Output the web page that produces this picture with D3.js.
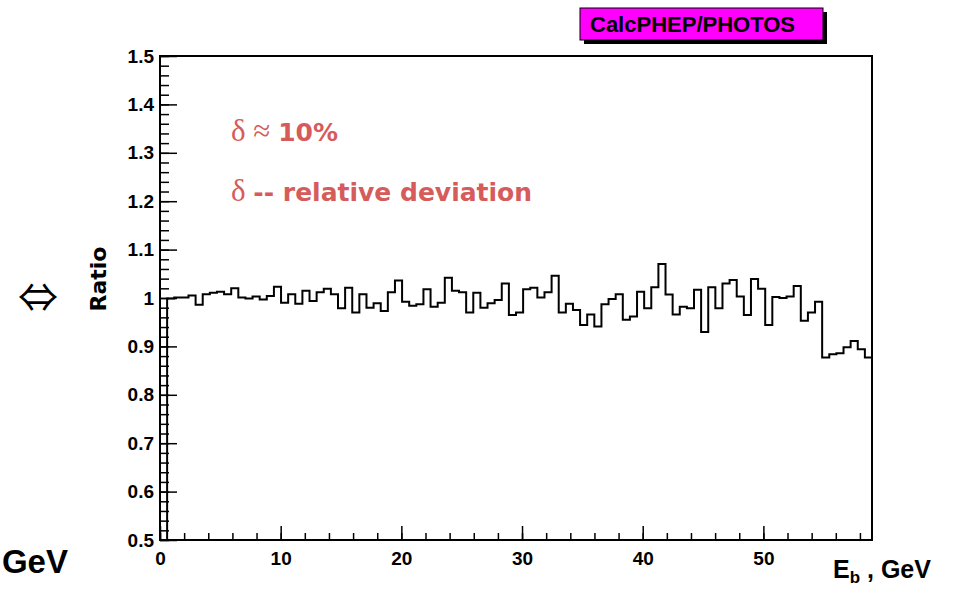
<!DOCTYPE html>
<html>
<head>
<meta charset="utf-8">
<script src="https://cdn.jsdelivr.net/npm/d3@7"></script>
<style>
  body { margin: 0; background: #fff; }
  svg { display: block; }
</style>
</head>
<body>
<svg id="chart"></svg>
<script>
// ratio histogram, 100 bins over 0..59 GeV (first bin empty)
const nBins = 100;
const xRange = [0, 59];
const ratio = [
  0,
  0.999, 1.001, 1.001, 1.005, 0.986, 1.008, 1.011, 1.013, 1.008, 1.020,
  1.001, 0.999, 1.003, 0.997, 1.004, 1.023, 0.990, 1.008, 0.988, 1.015,
  0.994, 1.012, 1.019, 1.008, 0.979, 1.021, 0.970, 1.008, 0.980, 0.989,
  0.973, 1.012, 1.036, 0.992, 0.984, 0.987, 1.018, 0.982, 0.990, 1.042,
  1.015, 1.012, 0.970, 1.011, 0.980, 0.989, 0.996, 1.030, 0.965, 0.970,
  1.018, 1.021, 1.001, 1.012, 1.046, 0.970, 0.988, 0.975, 0.944, 0.966,
  0.941, 0.987, 0.998, 1.008, 0.955, 0.962, 1.013, 0.979, 1.022, 1.070,
  1.007, 0.966, 0.982, 0.979, 1.017, 0.930, 1.022, 0.979, 1.030, 1.037,
  1.003, 0.965, 1.039, 1.019, 0.944, 1.002, 1.000, 1.003, 1.025, 0.953,
  0.970, 0.992, 0.877, 0.884, 0.886, 0.898, 0.911, 0.894, 0.877
];
const yMajor = [0.5, 0.6, 0.7, 0.8, 0.9, 1.0, 1.1, 1.2, 1.3, 1.4, 1.5];
const yLabels = ["0.5", "0.6", "0.7", "0.8", "0.9", "1", "1.1", "1.2", "1.3", "1.4", "1.5"];
const xMajor = [0, 10, 20, 30, 40, 50];
const xLabels = ["0", "10", "20", "30", "40", "50"];

const W = 962, H = 589;
const fL = 160, fR = 872, fT = 56, fB = 540;
const sans = "'DejaVu Sans', sans-serif";
const arial = "'Liberation Sans', Arial, sans-serif";
const serif = "'Liberation Serif', 'DejaVu Serif', serif";
const red = "#d65c5c";

const svg = d3.select("#chart").attr("width", W).attr("height", H);

const x = d3.scaleLinear().domain(xRange).range([fL, fR]);
const y = d3.scaleLinear().domain([0.5, 1.5]).range([fB, fT]);

svg.append("clipPath").attr("id", "frame")
  .append("rect").attr("x", fL).attr("y", fT)
  .attr("width", fR - fL).attr("height", fB - fT);

// step outline
const bw = (xRange[1] - xRange[0]) / nBins;
const pts = [[xRange[0], 0]];
ratio.forEach((v, i) => {
  pts.push([xRange[0] + i * bw, v]);
  pts.push([xRange[0] + (i + 1) * bw, v]);
});
pts.push([xRange[1], 0]);

const line = d3.line().x(d => x(d[0])).y(d => y(d[1]));

svg.append("path")
  .attr("d", line(pts))
  .attr("clip-path", "url(#frame)")
  .attr("fill", "none")
  .attr("stroke", "#000")
  .attr("stroke-width", 2);

// frame
svg.append("rect")
  .attr("x", fL).attr("y", fT)
  .attr("width", fR - fL).attr("height", fB - fT)
  .attr("fill", "none").attr("stroke", "#000").attr("stroke-width", 2);

function styleAxis(g) {
  g.select(".domain").remove();
  g.selectAll("line").attr("stroke", "#000").attr("stroke-width", 1.5);
  g.selectAll("text")
    .attr("font-family", arial).attr("font-weight", "bold")
    .attr("font-size", 19).attr("fill", "#000");
}

// y axis, ticks inside the frame
svg.append("g").attr("transform", `translate(${fL},0)`)
  .call(d3.axisLeft(y).tickValues(y.ticks(50)).tickSize(-9).tickFormat(""))
  .call(styleAxis);
svg.append("g").attr("transform", `translate(${fL},0)`)
  .call(d3.axisLeft(y).tickValues(yMajor).tickSize(-17).tickPadding(6)
    .tickFormat((d, i) => yLabels[i]))
  .call(styleAxis);

// x axis
svg.append("g").attr("transform", `translate(0,${fB})`)
  .call(d3.axisBottom(x).tickValues(x.ticks(30)).tickSize(-7).tickFormat(""))
  .call(styleAxis);
svg.append("g").attr("transform", `translate(0,${fB})`)
  .call(d3.axisBottom(x).tickValues(xMajor).tickSize(-14).tickPadding(12)
    .tickFormat((d, i) => xLabels[i]))
  .call(styleAxis);

// axis titles
svg.append("text")
  .attr("transform", "translate(106,279) rotate(-90)")
  .attr("text-anchor", "middle")
  .attr("font-family", sans).attr("font-weight", "bold").attr("font-size", 22)
  .text("Ratio");

const xt = svg.append("text")
  .attr("x", 833).attr("y", 578)
  .attr("font-family", arial).attr("font-weight", "bold").attr("font-size", 25);
xt.append("tspan").text("E");
xt.append("tspan").attr("font-size", 17).attr("dy", 5).text("b");
xt.append("tspan").attr("dy", -5).text(" , GeV");

svg.append("text")
  .attr("x", 68).attr("y", 573).attr("text-anchor", "end")
  .attr("font-family", arial).attr("font-weight", "bold").attr("font-size", 33)
  .text("GeV");

svg.append("text")
  .attr("x", 38).attr("y", 312).attr("text-anchor", "middle")
  .attr("font-family", "'Noto Sans CJK SC', 'DejaVu Sans', sans-serif").attr("font-size", 40)
  .text("\u21D4");

// annotations
const t1 = svg.append("text").attr("x", 231).attr("y", 141).attr("fill", red);
t1.append("tspan").attr("font-family", serif).attr("font-size", 31).text("\u03B4 \u2248 ");
t1.append("tspan").attr("font-family", sans).attr("font-weight", "bold").attr("font-size", 25).text("10%");

const t2 = svg.append("text").attr("x", 231).attr("y", 201).attr("fill", red);
t2.append("tspan").attr("font-family", serif).attr("font-size", 31).text("\u03B4 ");
t2.append("tspan").attr("font-family", sans).attr("font-weight", "bold").attr("font-size", 25).text("-- relative deviation");

// title box
svg.append("rect").attr("x", 584).attr("y", 12).attr("width", 243).attr("height", 32).attr("fill", "#000");
svg.append("rect").attr("x", 580).attr("y", 8).attr("width", 243).attr("height", 32)
  .attr("fill", "#ff00ff").attr("stroke", "#000").attr("stroke-width", 1);
svg.append("text").attr("x", 590).attr("y", 32)
  .attr("font-family", arial).attr("font-weight", "bold").attr("font-size", 22)
  .text("CalcPHEP/PHOTOS");
</script>
</body>
</html>
